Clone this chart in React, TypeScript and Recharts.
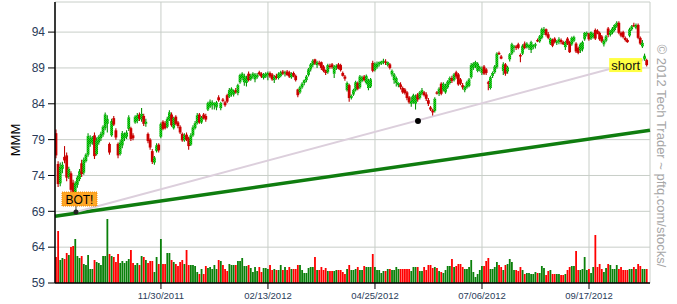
import React from "react";
import {
  ComposedChart,
  Bar,
  XAxis,
  YAxis,
  CartesianGrid,
  ReferenceLine,
  ReferenceDot,
} from "recharts";

// MMM daily candles, [open, high, low, close]
const ohlc: [number, number, number, number][] = [
  [79.9,80.4,76.4,76.8],[75.6,76.0,72.4,72.8],[72.9,75.8,72.5,75.2],[74.9,75.9,74.3,75.5],[76.6,78.1,75.7,76.1],[76.8,77.2,73.2,73.7],[73.8,75.2,73.5,74.9],[74.3,74.6,71.6,72.0],[73.0,73.4,71.4,71.7],[71.6,73.2,71.1,72.9],
  [72.7,74.0,72.3,73.7],[73.5,74.9,73.2,74.6],[75.7,76.2,73.8,74.2],[74.4,76.5,74.1,76.2],[76.0,77.1,75.8,76.9],[76.9,79.9,76.6,79.5],[78.4,79.6,78.0,79.2],[78.6,79.5,78.3,79.3],[79.6,80.0,76.3,76.7],[77.0,79.3,76.8,78.9],
  [78.6,79.6,78.3,79.4],[79.2,80.1,78.8,79.8],[79.7,81.0,79.4,80.8],[80.6,82.8,80.3,82.5],[81.2,82.4,80.0,81.9],[78.4,78.6,76.9,77.2],[79.6,81.9,79.4,81.6],[82.0,82.3,80.9,81.1],[80.3,80.6,79.0,79.3],[78.4,78.6,76.4,76.8],
  [77.0,79.0,76.8,78.6],[78.2,80.2,77.8,79.9],[79.2,80.0,78.8,79.8],[79.4,80.3,79.1,80.0],[80.5,82.4,80.2,82.1],[80.6,80.8,78.8,79.1],[79.6,79.9,78.9,79.2],[81.4,82.4,81.2,82.2],[81.6,82.7,81.3,82.4],[82.5,82.8,81.6,81.9],
  [81.8,83.4,81.5,82.6],[82.3,82.6,80.9,81.2],[81.2,81.9,80.8,81.5],[79.8,80.0,78.5,78.8],[79.0,79.2,77.6,77.9],[77.4,77.7,75.6,75.9],[75.8,76.7,75.5,76.5],[77.4,78.5,77.2,78.2],[78.3,78.5,77.2,77.5],[79.4,81.4,79.2,81.2],
  [81.5,81.7,80.3,80.5],[81.3,81.6,80.4,80.6],[80.8,82.2,80.6,81.9],[81.8,83.1,81.6,82.8],[82.5,82.8,80.8,81.0],[80.6,82.2,80.4,82.0],[82.2,82.4,81.0,81.2],[81.4,81.6,80.6,80.9],[80.8,81.0,79.8,80.0],[79.8,80.0,78.7,78.9],
  [78.9,79.9,78.7,79.6],[79.7,80.0,78.8,79.0],[79.2,79.4,77.6,78.1],[78.3,79.9,78.1,79.6],[79.6,81.0,79.4,80.7],[80.6,81.6,80.4,81.3],[81.3,82.7,81.1,82.4],[82.5,82.7,81.2,81.4],[81.4,82.3,81.2,82.1],[82.5,82.7,81.8,82.0],
  [82.3,82.6,81.5,81.8],[83.2,84.3,83.0,84.1],[83.6,84.6,83.4,84.3],[83.8,84.5,83.2,84.2],[83.8,84.2,83.2,84.1],[83.5,84.4,83.1,84.2],[84.9,85.2,84.3,84.5],[83.4,84.3,83.1,84.1],[84.6,84.8,84.2,84.4],[84.2,84.4,83.6,83.8],
  [85.2,85.4,84.1,84.3],[85.0,86.2,84.8,85.9],[85.3,86.3,85.0,86.1],[85.3,86.0,85.0,85.8],[85.9,86.2,85.4,85.6],[85.5,86.8,85.2,86.6],[87.0,88.2,86.8,88.0],[87.6,88.4,87.3,88.2],[87.0,88.2,86.5,87.9],[86.9,87.9,86.4,87.6],
  [88.2,88.5,87.1,87.3],[87.4,88.2,87.2,87.9],[87.8,88.4,87.5,88.2],[87.4,88.3,87.0,88.1],[87.7,88.3,87.5,88.0],[88.4,88.6,87.9,88.1],[88.2,88.4,87.6,87.8],[87.6,88.3,87.4,88.1],[87.8,88.4,87.6,88.2],[88.0,88.5,87.3,88.3],
  [88.3,88.5,87.6,87.8],[88.1,88.3,87.2,87.4],[87.3,88.0,86.9,87.8],[87.9,88.2,87.4,87.6],[87.6,88.4,87.4,88.2],[87.9,88.6,87.7,88.4],[88.5,88.7,88.0,88.2],[88.2,88.6,87.8,88.4],[88.5,88.7,87.9,88.0],[88.4,88.6,87.6,87.8],
  [87.7,88.4,87.5,88.2],[88.3,88.5,87.7,87.9],[87.9,88.1,87.1,87.3],[86.0,86.1,84.9,85.2],[85.6,86.5,85.4,86.3],[86.3,87.0,86.1,86.8],[86.9,87.4,86.6,87.3],[87.3,88.0,87.0,87.8],[88.0,89.0,87.8,88.8],[88.8,89.7,88.5,89.5],
  [89.4,90.2,89.1,90.0],[90.2,90.3,89.4,89.6],[89.4,90.0,89.0,89.8],[89.7,90.0,89.3,89.6],[89.8,89.9,88.7,89.0],[89.2,89.4,88.4,88.6],[88.7,88.8,88.0,88.3],[88.4,89.6,88.2,89.4],[89.3,89.6,88.9,89.2],[89.5,89.7,88.9,89.1],
  [88.2,89.4,87.6,89.2],[89.1,89.5,88.7,89.3],[89.5,89.7,88.8,88.9],[89.4,89.6,88.5,88.7],[88.3,88.5,87.8,87.9],[87.8,88.0,87.2,87.5],[85.9,87.1,85.7,86.9],[86.6,86.8,84.3,84.8],[84.8,85.3,84.6,85.1],[85.3,86.1,85.1,85.9],
  [85.9,87.2,85.7,87.0],[86.9,87.1,85.9,86.1],[86.3,88.0,86.1,87.8],[87.2,87.9,87.0,87.7],[87.8,88.0,87.1,87.3],[86.9,88.1,86.7,87.9],[86.2,87.5,85.9,87.3],[86.4,87.6,86.2,87.4],[89.7,90.0,88.4,88.6],[88.7,89.8,88.5,89.6],
  [89.1,89.9,88.9,89.6],[89.5,89.9,89.2,89.8],[89.6,90.0,89.4,89.9],[89.8,90.3,89.5,90.0],[89.9,90.2,89.4,89.7],[89.4,89.9,89.2,89.8],[89.5,89.7,88.8,89.0],[88.1,88.8,87.8,88.6],[87.3,88.3,86.8,88.1],[86.9,87.8,86.4,87.6],
  [86.6,87.0,86.3,86.9],[86.7,87.0,86.0,86.3],[86.2,86.4,85.4,85.6],[86.0,86.2,85.3,85.5],[85.6,85.8,84.5,84.8],[84.9,85.1,84.0,84.2],[84.0,85.0,83.6,84.4],[84.2,85.4,84.0,85.2],[84.0,85.3,83.2,85.0],[85.3,85.5,84.3,84.6],
  [84.8,85.8,84.6,85.6],[85.4,86.2,85.2,85.9],[85.6,85.8,85.0,85.2],[85.3,85.6,84.4,84.7],[84.5,84.8,83.7,84.0],[83.5,83.7,83.0,83.2],[83.1,83.3,82.2,82.8],[83.0,84.9,82.8,84.7],[85.6,85.8,85.3,85.4],[85.4,86.3,85.1,86.1],
  [86.8,87.0,85.2,85.4],[85.9,87.0,85.7,86.8],[85.6,86.8,85.4,86.5],[86.3,87.3,86.1,87.1],[86.9,87.8,86.7,87.6],[87.6,87.9,86.9,87.2],[87.3,88.3,87.1,88.1],[88.4,88.6,87.5,87.8],[88.1,88.3,86.5,86.7],[87.4,87.6,86.6,86.8],
  [86.6,86.9,86.0,86.3],[85.9,86.5,85.6,86.4],[86.3,87.2,86.1,87.0],[86.5,87.6,86.3,87.4],[87.7,89.7,87.5,89.4],[89.0,89.8,88.7,89.6],[89.3,90.0,89.0,89.8],[88.6,89.8,88.4,89.6],[88.9,89.3,88.5,89.1],[88.3,89.2,88.0,88.9],
  [89.2,89.4,88.0,88.2],[88.8,89.0,88.0,88.3],[87.0,87.2,85.9,86.8],[86.2,87.9,86.0,87.7],[87.9,88.5,87.6,88.3],[88.4,89.4,88.2,89.2],[89.1,91.2,88.9,91.0],[91.1,91.3,90.8,90.9],[90.6,90.8,90.2,90.3],[88.6,89.8,88.0,89.5],
  [89.5,89.7,87.9,88.2],[88.5,89.3,88.2,89.1],[90.2,91.1,89.9,90.9],[91.0,92.5,90.8,92.3],[91.8,92.2,91.2,92.0],[92.0,92.2,91.5,91.8],[92.3,92.5,91.6,91.8],[90.8,91.0,89.8,90.6],[91.0,92.3,90.8,92.1],[92.4,92.7,91.6,91.8],
  [91.9,92.6,91.7,92.4],[91.8,92.3,91.5,92.2],[91.5,92.8,91.1,92.6],[91.9,92.3,91.6,92.2],[92.1,92.5,91.7,92.3],[92.9,93.1,92.6,92.7],[92.7,93.6,92.5,93.4],[93.2,94.6,93.0,94.4],[93.9,94.7,93.6,94.4],[94.4,94.5,93.4,93.6],
  [93.7,94.0,93.0,93.2],[92.4,93.2,92.2,93.1],[92.9,93.1,91.9,92.1],[93.1,93.3,92.4,92.6],[92.5,92.9,92.2,92.7],[92.6,93.3,92.3,93.0],[92.9,93.1,92.3,92.6],[92.6,92.8,92.2,92.3],[91.9,92.8,91.5,92.6],[93.1,93.3,92.2,92.4],
  [92.6,92.8,91.1,91.2],[92.3,93.4,92.1,93.2],[92.8,93.5,92.6,93.3],[92.4,92.6,91.1,91.3],[91.8,92.0,90.9,91.1],[91.4,92.5,91.1,92.3],[91.6,92.8,91.3,92.6],[93.0,94.0,92.8,93.9],[93.7,94.1,93.4,93.9],[93.8,93.9,92.8,93.0],
  [93.1,94.1,92.9,94.0],[93.3,93.9,93.1,93.8],[94.3,94.5,92.9,93.1],[94.2,94.4,93.7,93.8],[93.9,94.1,92.8,93.0],[93.4,93.6,92.5,92.7],[92.3,93.0,92.0,92.8],[92.8,93.6,92.6,93.4],[94.5,94.7,93.3,93.6],[93.6,94.3,93.4,94.1],
  [93.9,94.7,93.7,94.5],[94.3,95.1,94.1,95.0],[94.8,95.5,94.6,95.3],[95.3,95.5,93.7,93.9],[93.9,94.1,93.3,93.5],[94.0,94.2,93.1,93.3],[93.2,93.4,92.7,92.9],[92.9,93.1,92.5,92.6],[93.5,94.6,93.3,94.4],[94.4,95.0,94.2,94.8],
  [95.0,95.3,94.7,94.8],[94.6,95.2,94.4,95.0],[95.0,95.2,93.0,93.2],[93.2,93.4,92.2,92.4],[92.0,92.9,91.8,92.5],[90.2,91.0,90.0,90.7],[90.1,90.3,89.2,89.4],
];

// daily volume, millions of shares
const volume = [
  5.2,10.4,4.6,5.0,4.8,6.0,5.6,7.2,7.4,8.8,
  5.4,5.0,5.4,3.8,3.6,5.6,2.8,2.8,4.6,4.2,
  4.0,3.6,5.4,5.4,12.8,5.8,5.4,5.2,4.2,5.8,
  4.0,4.4,4.0,4.4,4.8,6.6,4.0,3.6,4.0,3.6,
  5.4,5.2,4.6,4.0,4.4,4.4,2.2,5.2,3.8,8.8,
  3.8,3.8,6.0,6.0,4.6,4.2,3.8,3.4,4.2,4.6,
  3.8,6.6,3.6,3.6,3.6,3.4,2.2,1.8,2.8,1.8,
  3.4,3.0,3.2,2.8,3.6,2.8,4.6,4.4,3.6,2.8,
  2.4,3.8,3.6,3.6,3.6,4.4,4.4,5.0,3.4,3.4,
  3.6,3.0,2.2,3.2,2.4,3.2,2.2,3.0,3.0,2.8,
  3.6,2.6,2.8,2.6,2.6,3.6,2.6,3.2,2.6,3.2,
  2.8,2.8,2.8,3.6,3.6,2.6,2.0,2.0,3.0,3.2,
  3.2,5.2,2.6,2.6,3.2,2.6,3.0,2.4,2.4,2.4,
  2.4,2.6,2.6,2.6,2.2,1.8,2.8,3.6,2.6,2.6,
  2.8,3.2,2.6,2.6,3.4,3.2,3.2,3.2,5.8,3.2,
  2.6,2.6,2.0,2.4,2.4,2.8,2.8,2.6,2.6,3.2,
  2.8,2.8,2.8,2.8,2.8,2.8,2.4,3.2,3.2,3.2,
  2.4,2.4,3.2,2.6,3.6,3.6,3.0,3.2,3.0,2.4,
  2.2,2.0,2.6,3.4,3.4,4.8,3.2,3.4,3.8,3.8,
  3.2,2.8,2.8,3.2,4.6,2.2,1.2,1.8,2.6,3.4,
  3.4,4.4,5.0,2.8,2.8,3.2,4.2,3.6,3.2,2.6,
  3.6,3.8,4.8,4.2,2.6,2.6,2.4,3.2,2.6,1.8,
  2.0,2.0,1.8,1.8,2.2,2.0,2.0,3.4,3.0,1.6,
  2.4,2.6,1.8,1.8,1.8,1.8,1.6,1.6,1.8,2.6,
  3.2,3.4,3.4,6.4,2.6,2.6,2.8,5.2,2.6,2.8,
  2.0,3.2,9.6,3.2,3.8,2.8,2.2,3.0,3.8,3.6,
  2.8,2.8,3.6,2.8,3.2,2.6,2.6,2.6,2.8,2.8,
  3.2,2.8,3.8,3.4,2.8,2.8,2.8,
];

const tickIdx = [49, 99, 149, 199, 249];
const tickLabels = ["11/30/2011", "02/13/2012", "04/25/2012", "07/06/2012", "09/17/2012"];
const priceTicks = [59, 64, 69, 74, 79, 84, 89, 94];

// trend lines, in (day index, price)
const supportLine = [{ x: -0.5, y: 68.3 }, { x: 277.5, y: 80.3 }];
const shortLine = [{ x: 9.3, y: 68.9 }, { x: 274.3, y: 90.1 }];
const botPoint = { x: 9.3, y: 68.9 };
const touchPoint = { x: 169.1, y: 81.6 };
const shortPoint = { x: 274.3, y: 90.1 };

const data = ohlc.map(([o, h, l, c], i) => ({
  i,
  o,
  h,
  l,
  c,
  range: [l, h],
  v: volume[i],
}));

const font = "Arial, 'Liberation Sans', sans-serif";

const Candle = (props: any) => {
  const { x, y, width, height, payload } = props;
  if (x == null || !payload) return null;
  const mid = x + width / 2;
  const top = Math.min(y, y + height);
  const bot = Math.max(y, y + height);
  const k = (bot - top) / (payload.h - payload.l);
  const bTop = top + (payload.h - Math.max(payload.o, payload.c)) * k;
  const bBot = top + (payload.h - Math.min(payload.o, payload.c)) * k;
  const up = payload.c >= payload.o;
  return (
    <g>
      <line x1={mid} x2={mid} y1={top} y2={bot} stroke={up ? "#079307" : "#c00000"} strokeWidth={1.1} />
      <rect
        x={mid - 1.4}
        y={bTop}
        width={2.8}
        height={Math.max(1.2, bBot - bTop)}
        fill={up ? "url(#greenDither)" : "#cc0000"}
      />
    </g>
  );
};

const VolBar = (props: any) => {
  const { x, y, width, height, payload } = props;
  if (x == null || !payload) return null;
  const mid = x + width / 2;
  return (
    <rect
      x={mid - 0.9}
      y={Math.min(y, y + height)}
      width={1.8}
      height={Math.abs(height)}
      fill={payload.c >= payload.o ? "#0a800a" : "#ff0000"}
    />
  );
};

const BotTag = (props: any) => {
  const { cx, cy } = props;
  if (cx == null) return null;
  return (
    <g>
      <line x1={cx} x2={cx} y1={cy - 6} y2={cy} stroke="#333" />
      <rect x={cx - 14} y={cy - 20} width={35} height={14} fill="#ffa726" stroke="#f08a00" strokeDasharray="1 1" />
      <text x={cx + 3.5} y={cy - 8.5} textAnchor="middle" fontSize={12} fontFamily={font} fill="#000">
        BOT!
      </text>
      <circle cx={cx} cy={cy} r={2.5} fill="#222" />
    </g>
  );
};

const ShortTag = (props: any) => {
  const { cx, cy } = props;
  if (cx == null) return null;
  return (
    <g>
      <rect x={cx - 34} y={cy - 2} width={33} height={14} fill="#ffff22" fillOpacity={0.85} />
      <text x={cx - 17.5} y={cy + 9.5} textAnchor="middle" fontSize={13} fontFamily={font} fill="#111">
        short
      </text>
    </g>
  );
};

export default function App() {
  return (
    <div style={{ position: "absolute", left: 0, top: 0, width: 677, height: 304, background: "#fff" }}>
      <svg width={0} height={0} style={{ position: "absolute" }}>
        <defs>
          <pattern id="greenDither" width={2} height={2} patternUnits="userSpaceOnUse">
            <rect width={2} height={2} fill="#1fdc1f" />
            <rect width={1} height={1} fill="#009c00" />
            <rect x={1} y={1} width={1} height={1} fill="#009c00" />
          </pattern>
        </defs>
      </svg>
      <ComposedChart width={677} height={304} data={data} margin={{ top: 2, right: 27, bottom: 0, left: 0 }}>
        <CartesianGrid stroke="#c8cec8" />
        <XAxis
          xAxisId={0}
          dataKey="i"
          type="number"
          domain={[-0.5, 277.5]}
          ticks={tickIdx}
          interval={0}
          allowDataOverflow
          tickFormatter={(v: number) => tickLabels[tickIdx.indexOf(v)] ?? ""}
          tick={{ fontSize: 9.5, fill: "#2a3c5a", fontFamily: font }}
          tickLine={{ stroke: "#000" }}
          axisLine={{ stroke: "#000", strokeWidth: 1.5 }}
          tickSize={6}
          tickMargin={3}
          height={21}
        />
        <XAxis xAxisId="v" dataKey="i" type="number" domain={[-0.5, 277.5]} allowDataOverflow hide />
        <YAxis
          yAxisId={0}
          type="number"
          domain={[59, 98.2]}
          ticks={priceTicks}
          interval={0}
          allowDataOverflow
          width={55}
          tick={{ fontSize: 12, fill: "#2a3c5a", fontFamily: font }}
          tickLine={{ stroke: "#000" }}
          axisLine={{ stroke: "#000", strokeWidth: 1.5 }}
          tickSize={7}
          tickMargin={3}
        />
        <YAxis yAxisId="vol" type="number" domain={[0, 56.2]} allowDataOverflow hide />
        <Bar
          dataKey="v"
          xAxisId="v"
          yAxisId="vol"
          barSize={2}
          shape={(p: any) => <VolBar {...p} />}
          isAnimationActive={false}
        />
        <ReferenceLine segment={supportLine} stroke="#0f7d0f" strokeWidth={3.5} />
        <ReferenceLine segment={shortLine} stroke="#dccfdc" strokeWidth={2} />
        <Bar
          dataKey="range"
          xAxisId={0}
          yAxisId={0}
          barSize={3}
          shape={(p: any) => <Candle {...p} />}
          isAnimationActive={false}
        />
        <ReferenceDot x={touchPoint.x} y={touchPoint.y} r={3} fill="#000" stroke="none" />
        <ReferenceDot x={botPoint.x} y={botPoint.y} shape={(p: any) => <BotTag {...p} />} />
        <ReferenceDot x={shortPoint.x} y={shortPoint.y} shape={(p: any) => <ShortTag {...p} />} />
      </ComposedChart>
      <svg width={677} height={304} style={{ position: "absolute", left: 0, top: 0, pointerEvents: "none" }}>
        <text
          transform="translate(15,140) rotate(-90)"
          textAnchor="middle"
          dominantBaseline="central"
          fontSize={13}
          fontFamily={font}
          fill="#000"
        >
          MMM
        </text>
        <text
          transform="translate(661,156) rotate(90)"
          textAnchor="middle"
          dominantBaseline="central"
          fontSize={13}
          fontFamily={font}
          fill="#a6a6a6"
        >
          © 2012 Tech Trader ~ pftq.com/stocks/
        </text>
      </svg>
    </div>
  );
}
